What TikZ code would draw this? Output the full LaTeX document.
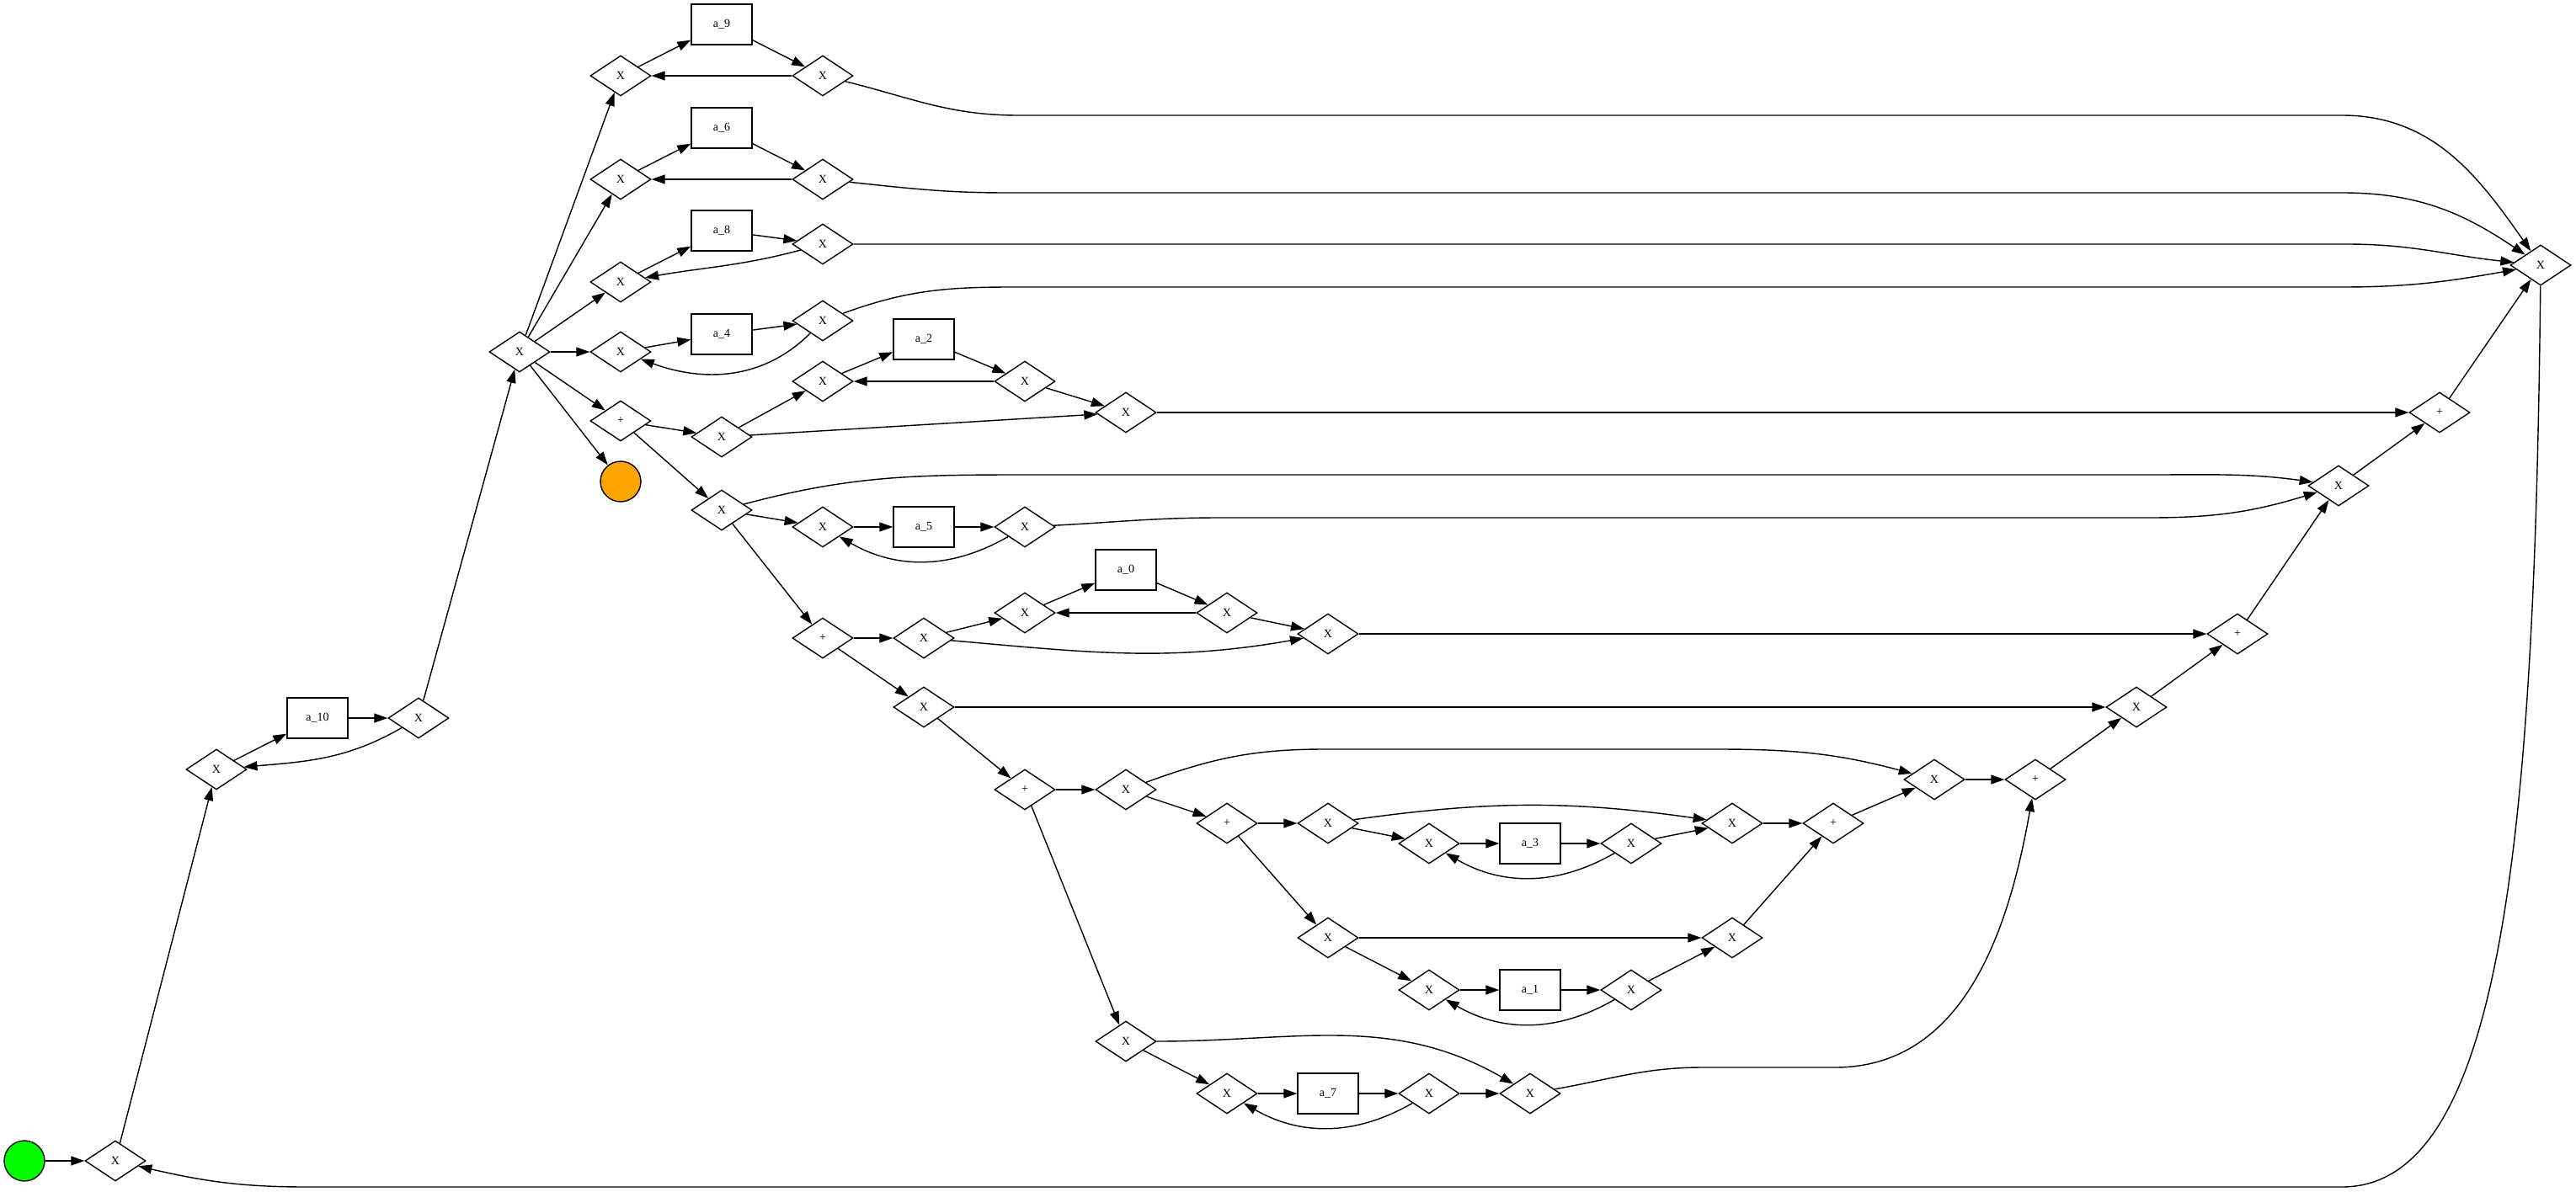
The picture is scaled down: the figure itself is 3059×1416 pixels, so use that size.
\documentclass[tikz,border=0pt]{standalone}
\usepackage{fontspec}
\setmainfont{Liberation Serif}
\usetikzlibrary{arrows.meta,shapes.geometric}
\definecolor{startgreen}{HTML}{00FF00}
\definecolor{endorange}{HTML}{FFA500}
\tikzset{
  gw/.style={draw,diamond,minimum width=1.44cm,minimum height=0.96cm,inner sep=0pt,fill=white},
  task/.style={draw,rectangle,minimum width=1.44cm,minimum height=0.96cm,inner sep=0pt,fill=white},
  startev/.style={draw,circle,fill=startgreen,minimum size=0.96cm,inner sep=0pt},
  endev/.style={draw,circle,fill=endorange,minimum size=0.96cm,inner sep=0pt},
}

\begin{document}
\begin{tikzpicture}[x=0.02cm,y=-0.02cm,>={Triangle[length=3.2mm,width=2.2mm]},
   line width=0.8pt,font=\fontsize{8}{10}\selectfont]
  \useasboundingbox (0,0) rectangle (3059,1416);
  % start and the a_10 loop
  \node[startev] (start) at (29,1379) {};
  \node[gw] (g0) at (137,1379) {X};
  \node[gw] (l10a) at (257,914) {X};
  \node[task] (a10) at (377,853) {a\_10};
  \node[gw] (l10b) at (497,853) {X};
  \node[gw] (split) at (617,418) {X};
  % upper loops
  \node[gw] (l9a) at (737,90) {X};
  \node[task] (a9) at (857,29) {a\_9};
  \node[gw] (l9b) at (977,90) {X};
  \node[gw] (l6a) at (737,213) {X};
  \node[task] (a6) at (857,152) {a\_6};
  \node[gw] (l6b) at (977,213) {X};
  \node[gw] (l8a) at (737,335) {X};
  \node[task] (a8) at (857,274) {a\_8};
  \node[gw] (l8b) at (977,290) {X};
  \node[gw] (l4a) at (737,418) {X};
  \node[task] (a4) at (857,397) {a\_4};
  \node[gw] (l4b) at (977,381) {X};
  \node[gw] (p1) at (737,500) {+};
  \node[endev] (stop) at (737,572) {};
  % parallel block
  \node[gw] (x2s) at (857,519) {X};
  \node[gw] (l2a) at (977,453) {X};
  \node[task] (a2) at (1097,403) {a\_2};
  \node[gw] (l2b) at (1217,453) {X};
  \node[gw] (x2j) at (1337,490) {X};
  \node[gw] (x5s) at (857,606) {X};
  \node[gw] (l5a) at (977,626) {X};
  \node[task] (a5) at (1097,626) {a\_5};
  \node[gw] (l5b) at (1217,626) {X};
  \node[gw] (x5j) at (2777,577) {X};
  \node[gw] (p2) at (977,758) {+};
  \node[gw] (x0s) at (1097,758) {X};
  \node[gw] (l0a) at (1217,728) {X};
  \node[task] (a0) at (1337,677) {a\_0};
  \node[gw] (l0b) at (1457,728) {X};
  \node[gw] (x0j) at (1577,753) {X};
  \node[gw] (pj2) at (2657,753) {+};
  \node[gw] (xd) at (1097,840) {X};
  \node[gw] (xdj) at (2537,840) {X};
  \node[gw] (p3) at (1217,938) {+};
  \node[gw] (xe) at (1337,938) {X};
  \node[gw] (p4) at (1457,978) {+};
  \node[gw] (x3s) at (1577,978) {X};
  \node[gw] (l3a) at (1697,1002) {X};
  \node[task] (a3) at (1817,1002) {a\_3};
  \node[gw] (l3b) at (1937,1002) {X};
  \node[gw] (x3j) at (2057,978) {X};
  \node[gw] (x1s) at (1577,1114) {X};
  \node[gw] (l1a) at (1697,1176) {X};
  \node[task] (a1) at (1817,1176) {a\_1};
  \node[gw] (l1b) at (1937,1176) {X};
  \node[gw] (x1j) at (2057,1114) {X};
  \node[gw] (pj4) at (2177,978) {+};
  \node[gw] (xej) at (2297,926) {X};
  \node[gw] (pj3) at (2417,926) {+};
  \node[gw] (xf) at (1337,1237) {X};
  \node[gw] (l7a) at (1457,1299) {X};
  \node[task] (a7) at (1577,1299) {a\_7};
  \node[gw] (l7b) at (1697,1299) {X};
  \node[gw] (x7j) at (1817,1299) {X};
  \node[gw] (pj1) at (2897,490) {+};
  \node[gw] (xend) at (3017,315) {X};

  \draw[->] (start) -- (g0);
  \draw[->] (g0) -- (l10a);
  \draw[->] (l10a) -- (a10);
  \draw[->] (a10) -- (l10b);
  \draw[->] (l10b) to[out=-150,in=5] (l10a);
  \draw[->] (l10b) -- (split);
  \draw[->] (split) -- (l9a);
  \draw[->] (split) -- (l6a);
  \draw[->] (split) -- (l8a);
  \draw[->] (split) -- (l4a);
  \draw[->] (split) -- (p1);
  \draw[->] (split) -- (stop);
  \draw[->] (l9a) -- (a9);
  \draw[->] (a9) -- (l9b);
  \draw[->] (l9b) -- (l9a);
  \draw[->] (l6a) -- (a6);
  \draw[->] (a6) -- (l6b);
  \draw[->] (l6b) -- (l6a);
  \draw[->] (l8a) -- (a8);
  \draw[->] (a8) -- (l8b);
  \draw[->] (l8b) to[out=-165,in=10] (l8a);
  \draw[->] (l4a) -- (a4);
  \draw[->] (a4) -- (l4b);
  \draw[->] (l4b) to[out=-135,in=-20] (l4a);
  \draw[->] (l9b) to[out=-14,in=180] (1209,137) -- (2781,137) to[out=0,in=125] (xend);
  \draw[->] (l6b) to[out=-6,in=180] (1196,229) -- (2781,229) to[out=0,in=146] (xend);
  \draw[->] (l8b) -- (2787,290) to[out=0,in=174] (xend);
  \draw[->] (l4b) to[out=20,in=180] (1202,341) -- (2781,341) to[out=0,in=190] (xend);
  \draw[->] (p1) -- (x2s);
  \draw[->] (p1) -- (x5s);
  \draw[->] (x2s) -- (l2a);
  \draw[->] (l2a) -- (a2);
  \draw[->] (a2) -- (l2b);
  \draw[->] (l2b) -- (l2a);
  \draw[->] (l2b) -- (x2j);
  \draw[->] (x2s) -- (x2j);
  \draw[->] (x2j) -- (pj1);
  \draw[->] (x5s) to[out=15,in=180] (1215,564) -- (2553,564) to[out=0,in=172] (x5j);
  \draw[->] (x5s) -- (l5a);
  \draw[->] (l5a) -- (a5);
  \draw[->] (a5) -- (l5b);
  \draw[->] (l5b) to[out=-150,in=-30] (l5a);
  \draw[->] (l5b) to[out=3,in=180] (1449,615) -- (2553,615) to[out=0,in=197] (x5j);
  \draw[->] (x5s) -- (p2);
  \draw[->] (p2) -- (x0s);
  \draw[->] (p2) -- (xd);
  \draw[->] (x0s) -- (l0a);
  \draw[->] (l0a) -- (a0);
  \draw[->] (a0) -- (l0b);
  \draw[->] (l0b) -- (l0a);
  \draw[->] (l0b) -- (x0j);
  \draw[->] (x0s) to[out=-5,in=190] (x0j);
  \draw[->] (x0j) -- (pj2);
  \draw[->] (xd) -- (xdj);
  \draw[->] (xd) -- (p3);
  \draw[->] (xdj) -- (pj2);
  \draw[->] (pj2) -- (x5j);
  \draw[->] (x5j) -- (pj1);
  \draw[->] (pj1) -- (xend);
  \draw[->] (p3) -- (xe);
  \draw[->] (p3) -- (xf);
  \draw[->] (xe) to[out=20,in=180] (1573,890) -- (2040,890) to[out=0,in=165] (xej);
  \draw[->] (xe) -- (p4);
  \draw[->] (p4) -- (x3s);
  \draw[->] (p4) -- (x1s);
  \draw[->] (x3s) to[out=8,in=172] (x3j);
  \draw[->] (x3s) -- (l3a);
  \draw[->] (l3a) -- (a3);
  \draw[->] (a3) -- (l3b);
  \draw[->] (l3b) to[out=-150,in=-30] (l3a);
  \draw[->] (l3b) -- (x3j);
  \draw[->] (x1s) -- (x1j);
  \draw[->] (x1s) -- (l1a);
  \draw[->] (l1a) -- (a1);
  \draw[->] (a1) -- (l1b);
  \draw[->] (l1b) to[out=-150,in=-30] (l1a);
  \draw[->] (l1b) -- (x1j);
  \draw[->] (x3j) -- (pj4);
  \draw[->] (x1j) -- (pj4);
  \draw[->] (pj4) -- (xej);
  \draw[->] (xej) -- (pj3);
  \draw[->] (pj3) -- (xdj);
  \draw[->] (xf) to[out=0,in=150] (x7j);
  \draw[->] (xf) -- (l7a);
  \draw[->] (l7a) -- (a7);
  \draw[->] (a7) -- (l7b);
  \draw[->] (l7b) to[out=-150,in=-30] (l7a);
  \draw[->] (l7b) -- (x7j);
  \draw[->] (x7j) to[out=10,in=180] (2022,1268) -- (2179,1268) to[out=0,in=-100] (pj3);
  \draw[->] (xend) .. controls (3010,1000) and (2970,1410) .. (2781,1410) -- (364,1410) to[out=180,in=-13] (g0);
\end{tikzpicture}
\end{document}
